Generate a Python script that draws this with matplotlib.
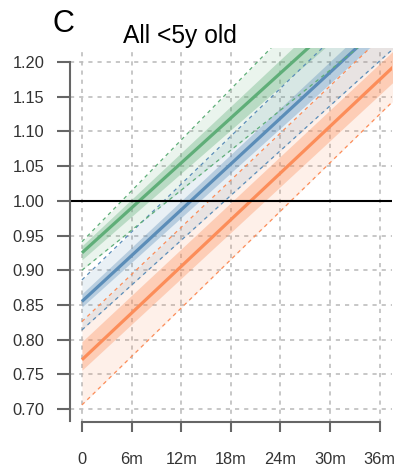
import matplotlib
matplotlib.use("Agg")
import matplotlib.pyplot as plt

plt.rcParams["font.family"] = ["Liberation Sans", "DejaVu Sans"]

# months since baseline (lines run past the right edge and are clipped)
months = [0, 38]

# orange
orange_mid = [0.771, 1.197]
orange_in_lo = [0.756, 1.175]
orange_in_hi = [0.797, 1.220]
orange_out_lo = [0.706, 1.148]
orange_out_hi = [0.826, 1.256]

# blue
blue_mid = [0.855, 1.273]
blue_in_lo = [0.847, 1.255]
blue_in_hi = [0.866, 1.290]
blue_out_lo = [0.814, 1.223]
blue_out_hi = [0.886, 1.323]

# green
green_mid = [0.925, 1.335]
green_in_lo = [0.915, 1.310]
green_in_hi = [0.935, 1.360]
green_out_lo = [0.900, 1.265]
green_out_hi = [0.941, 1.405]

x_ticks = [0, 6, 12, 18, 24, 30, 36]
x_labels = ["0", "6m", "12m", "18m", "24m", "30m", "36m"]
y_ticks = [0.70, 0.75, 0.80, 0.85, 0.90, 0.95, 1.00, 1.05, 1.10, 1.15, 1.20]

series = [
    ("#fc8d59", orange_mid, orange_in_lo, orange_in_hi, orange_out_lo, orange_out_hi),
    ("#5b8db8", blue_mid, blue_in_lo, blue_in_hi, blue_out_lo, blue_out_hi),
    ("#5fae78", green_mid, green_in_lo, green_in_hi, green_out_lo, green_out_hi),
]

W, H = 398, 471
fig = plt.figure(figsize=(W / 100, H / 100), dpi=100)
ax = fig.add_axes([70 / W, 1 - 423 / H, 321.7 / W, 375 / H])
ax.set_xlim(-1.44, 37.44)
ax.set_ylim(0.68, 1.22)
ax.set_axisbelow(True)
ax.grid(True, color="#bdbdbd", lw=1.2, linestyle=(0, (2.5, 3)))

for color, mid, in_lo, in_hi, out_lo, out_hi in series:
    ax.fill_between(months, out_lo, out_hi, color=color, alpha=0.13, lw=0)
for color, mid, in_lo, in_hi, out_lo, out_hi in series:
    ax.fill_between(months, in_lo, in_hi, color=color, alpha=0.35, lw=0)
    ax.plot(months, out_lo, color=color, lw=0.9, linestyle=(0, (3, 3)))
    ax.plot(months, out_hi, color=color, lw=0.9, linestyle=(0, (3, 3)))
    ax.plot(months, mid, color=color, lw=2.3, solid_capstyle="butt")

ax.axhline(1.0, color="black", lw=1.5)

for s in ("top", "right"):
    ax.spines[s].set_visible(False)
ax.spines["left"].set_bounds(0.683, 1.20)
ax.spines["bottom"].set_bounds(0, 36)
ax.spines["bottom"].set_position(("data", 0.682))
for s in ("left", "bottom"):
    ax.spines[s].set_color("#666666")
    ax.spines[s].set_linewidth(1.5)

ax.set_yticks(y_ticks)
ax.set_yticklabels([f"{v:.2f}" for v in y_ticks])
ax.set_xticks(x_ticks)
ax.set_xticklabels(x_labels)
ax.tick_params(axis="y", length=9.4, width=1.5, color="#666666", pad=9,
               labelsize=11.8, labelcolor="#333333")
ax.tick_params(axis="x", length=7.2, width=1.5, color="#666666", pad=15,
               labelsize=11.8, labelcolor="#333333")

fig.text(52 / W, 1 - 32 / H, "C", fontsize=22, va="baseline", ha="left")
fig.text(180 / W, 1 - 43 / H, "All <5y old", fontsize=17.7, va="baseline",
         ha="center")

fig.savefig("out.png", dpi=100)
